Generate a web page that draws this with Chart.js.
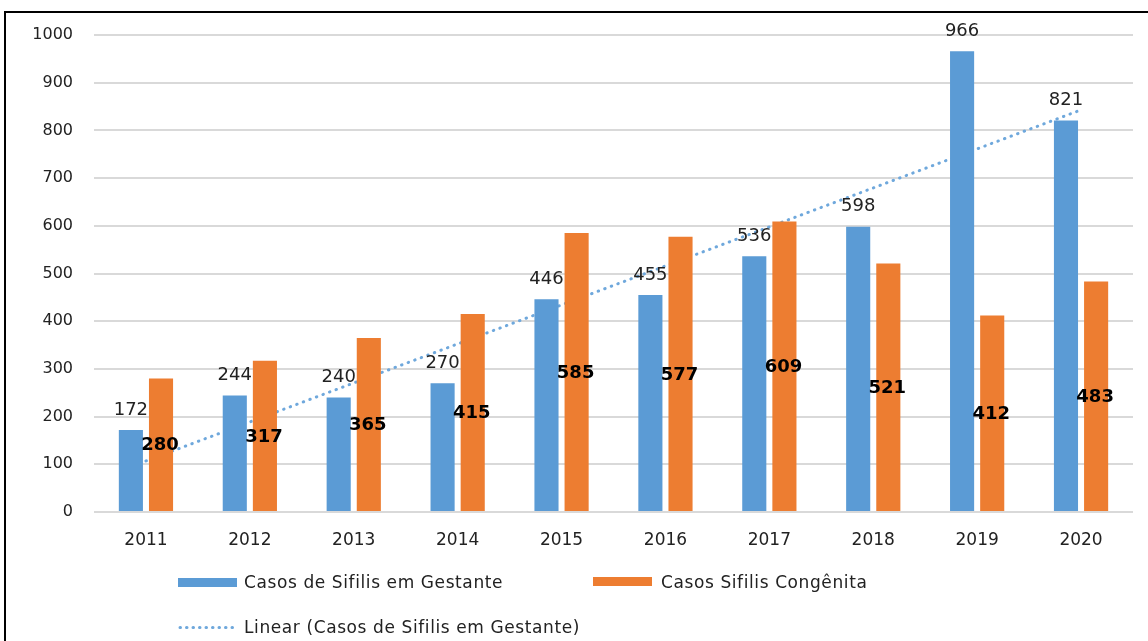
<!DOCTYPE html>
<html>
<head>
<meta charset="utf-8">
<script src="https://cdn.jsdelivr.net/npm/chart.js@4.4.0/dist/chart.umd.min.js"></script>
<style>
  html, body { margin: 0; padding: 0; background: #fff; }
  #wrap { position: relative; width: 1148px; height: 641px; overflow: hidden; }
  #frame { position: absolute; left: 4px; top: 11px; width: 1160px; height: 700px;
           border-left: 2px solid #000; border-top: 2px solid #000; }
  #chartBox { position: absolute; left: 0; top: 0; width: 1148px; height: 641px; }
  .leg { position: absolute; font-family: "DejaVu Sans", sans-serif; font-size: 17px;
         line-height: 20px; color: #222; letter-spacing: 0.6px; white-space: nowrap; }
  .sw { position: absolute; width: 59px; height: 9px; }
  .dots { position: absolute; width: 59px; height: 3px; }
</style>
</head>
<body>
<div id="wrap">
  <div id="frame"></div>
  <div id="chartBox"><canvas id="sifilisChart" width="1148" height="641"></canvas></div>
  <div class="sw" style="left:178px; top:578px; background:#5b9bd5;"></div>
  <div class="leg" style="left:244px; top:572px;">Casos de Sifilis em Gestante</div>
  <div class="sw" style="left:593px; top:577px; background:#ed7d31;"></div>
  <div class="leg" style="left:661px; top:572px;">Casos Sifilis Congênita</div>
  <canvas class="dots" id="legDots" width="59" height="3" style="left:178px; top:626px;"></canvas>
  <div class="leg" style="left:244px; top:617px;">Linear (Casos de Sifilis em Gestante)</div>
</div>
<script>
var years = ['2011', '2012', '2013', '2014', '2015', '2016', '2017', '2018', '2019', '2020'];
var gestante = [172, 244, 240, 270, 446, 455, 536, 598, 966, 821];
var congenita = [280, 317, 365, 415, 585, 577, 609, 521, 412, 483];
// trend line end points (gaps are spanned)
var trendLine = [107, null, null, null, null, null, null, null, null, 843];
var yTicks = [0, 100, 200, 300, 400, 500, 600, 700, 800, 900, 1000];

// dotted swatch in the legend
var d = document.getElementById('legDots').getContext('2d');
d.strokeStyle = '#6fa8dc';
d.lineWidth = 3;
d.lineCap = 'round';
d.setLineDash([0.5, 6]);
d.beginPath();
d.moveTo(2, 1.5);
d.lineTo(58, 1.5);
d.stroke();

/* value labels: blue above the bar, orange bold in the middle */
const barLabels = {
  id: 'barLabels',
  afterDatasetsDraw(chart) {
    const c = chart.ctx;
    c.save();
    c.textAlign = 'center';
    c.textBaseline = 'middle';
    chart.getDatasetMeta(0).data.forEach(function(bar, i) {
      c.font = '18px "DejaVu Sans"';
      c.fillStyle = '#222';
      c.fillText(gestante[i], bar.x, bar.y - 20);
    });
    chart.getDatasetMeta(1).data.forEach(function(bar, i) {
      c.font = 'bold 18px "DejaVu Sans"';
      c.fillStyle = '#000';
      c.fillText(congenita[i], bar.x - 1, (bar.y + bar.base) / 2 + 1);
    });
    c.restore();
  }
};

const ctx = document.getElementById('sifilisChart').getContext('2d');
new Chart(ctx, {
  type: 'bar',
  data: {
    labels: years,
    datasets: [{
      label: 'Casos de Sifilis em Gestante',
      data: gestante,
      backgroundColor: '#5b9bd5',
      order: 1
    }, {
      label: 'Casos Sifilis Congênita',
      data: congenita,
      backgroundColor: '#ed7d31',
      order: 1
    }, {
      type: 'line',
      label: 'Linear (Casos de Sifilis em Gestante)',
      data: trendLine,
      spanGaps: true,
      borderColor: '#6fa8dc',
      borderWidth: 3,
      borderDash: [0.5, 6.5],
      borderCapStyle: 'round',
      pointRadius: 0,
      order: 3
    }]
  },
  options: {
    responsive: false,
    animation: false,
    categoryPercentage: 0.58,
    barPercentage: 0.8,
    layout: { padding: { top: 35, right: 15, left: 0, bottom: 0 } },
    scales: {
      x: {
        grid: { display: false },
        border: { display: false },
        ticks: { color: '#222', font: { family: 'DejaVu Sans', size: 17 }, padding: 10 },
        afterFit: function(scale) { scale.height = 129; }
      },
      y: {
        min: 0,
        max: 1000,
        afterBuildTicks: function(scale) { scale.ticks = yTicks.map(function(v) { return { value: v }; }); },
        grid: { color: '#d9d9d9', lineWidth: 2, drawTicks: false },
        border: { display: false },
        ticks: {
          color: '#222',
          font: { family: 'DejaVu Sans', size: 16 },
          padding: 21,
          callback: function(v) { return String(v); }
        },
        afterFit: function(scale) { scale.width = 94; }
      }
    },
    plugins: {
      legend: { display: false },
      tooltip: { enabled: false }
    }
  },
  plugins: [barLabels]
});
</script>
</body>
</html>
